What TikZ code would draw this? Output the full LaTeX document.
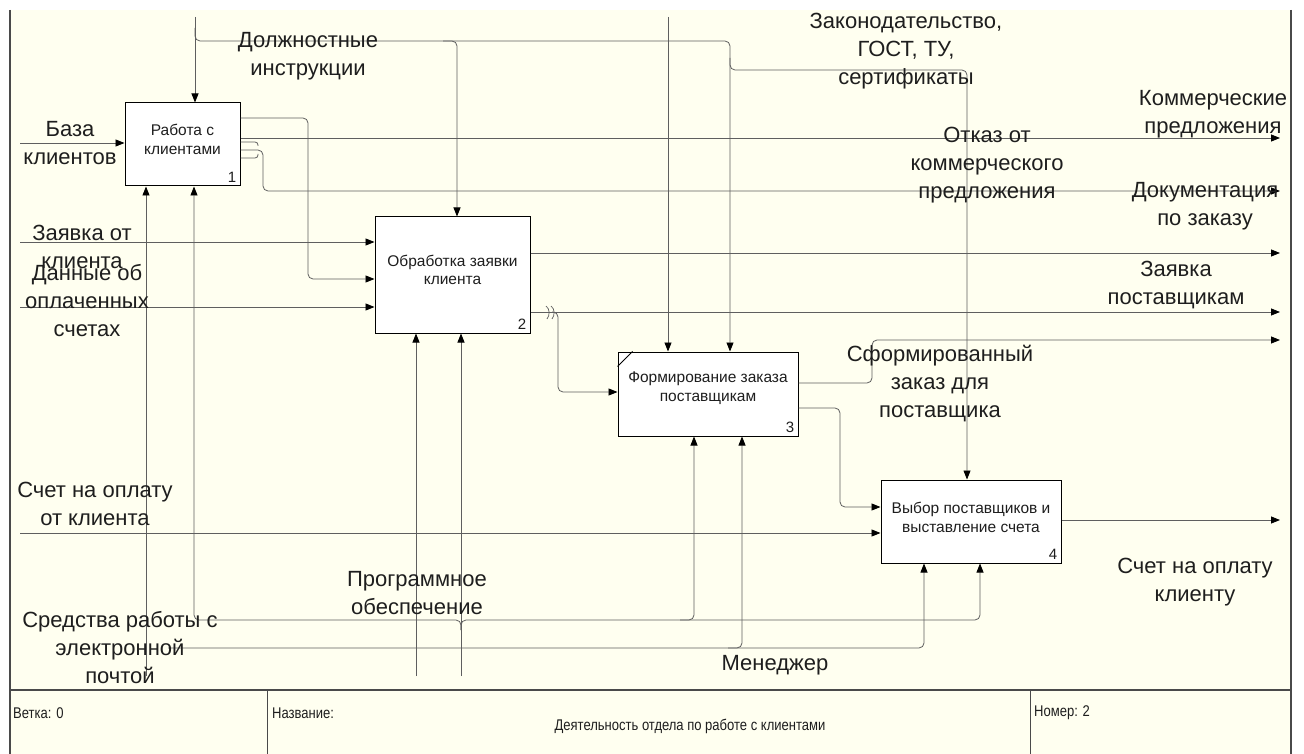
\documentclass[tikz,border=0pt]{standalone}
\usepackage{fontspec}
\setmainfont{Liberation Sans}
\newfontfamily\narrowfont[FakeStretch=0.84]{Liberation Sans}
\usetikzlibrary{arrows.meta}

\definecolor{cream}{HTML}{FFFFF0}
\definecolor{linegray}{HTML}{5F5F5F}
\definecolor{textgray}{HTML}{1E1E1E}
\definecolor{framegray}{HTML}{4A4A4A}

\begin{document}
\begin{tikzpicture}[x=1pt,y=-1pt,
  flow/.style={draw=linegray, line width=0.8pt, rounded corners=5pt},
  arr/.style={flow, -{Triangle[length=9pt,width=7pt,color=black]}},
  fnbox/.style={draw=black, line width=1pt, fill=white, inner sep=0pt},
  boxtext/.style={font=\fontsize{15.5}{18.5}\selectfont, align=center, text=textgray, inner sep=0pt},
  numlab/.style={font=\fontsize{15}{15}\selectfont, anchor=south east, inner sep=0pt, text=textgray},
  lab/.style={font=\fontsize{22}{28}\selectfont, align=center, text=textgray, inner sep=0pt},
  foot/.style={font=\narrowfont\fontsize{15.5}{17}\selectfont, text=textgray, inner sep=0pt}]

% page and sheet
\useasboundingbox (0,0) rectangle (1304,754);
\fill[white] (0,0) rectangle (1304,754);
\fill[cream] (10,10) rectangle (1291,754);

% function boxes
\node[fnbox, minimum width=115pt, minimum height=83pt]  (b1) at (182.5,144.5) {};
\node[fnbox, minimum width=155pt, minimum height=116pt] (b2) at (452.5,275) {};
\node[fnbox, minimum width=180pt, minimum height=84pt]  (b3) at (708,394) {};
\node[fnbox, minimum width=180pt, minimum height=83pt]  (b4) at (971,521.5) {};

\node[boxtext] (t1) at ([yshift=5pt]b1.center) {Работа с\\клиентами};
\node[boxtext] (t2) at ([yshift=5pt]b2.center) {Обработка заявки\\клиента};
\node[boxtext] (t3) at ([yshift=6pt]b3.center) {Формирование заказа\\поставщикам};
\node[boxtext] (t4) at ([yshift=4pt]b4.center) {Выбор поставщиков и\\выставление счета};

\node[numlab] (n1) at ([xshift=-4pt,yshift=4pt]b1.south east) {1};
\node[numlab] (n2) at ([xshift=-4pt,yshift=4pt]b2.south east) {2};
\node[numlab] (n3) at ([xshift=-4pt,yshift=4pt]b3.south east) {3};
\node[numlab] (n4) at ([xshift=-4pt,yshift=4pt]b4.south east) {4};

% corner mark of box 3
\draw[black, line width=0.8pt] ([yshift=-15pt]b3.north west) -- ([xshift=15pt]b3.north west);

% controls
\coordinate (ctopA) at (195,17);
\draw[arr] (ctopA) -- (ctopA |- b1.north);
\coordinate (cs) at (195,28);
\coordinate (cj) at (195,41);
\coordinate (cr) at (730,41);
\draw[arr] (cs) -- (cj) -- (cr) -- (cr |- b3.north);
\coordinate (dA) at (443,41);
\coordinate (dB) at (457,41);
\draw[arr] (dA) -- (dB) -- (dB |- b2.north);
\coordinate (ctopB) at (668,17);
\draw[arr] (ctopB) -- (ctopB |- b3.north);
\coordinate (lawA) at (730,58);
\coordinate (lawB) at (730,70);
\coordinate (lawC) at (967,70);
\draw[arr] (lawA) -- (lawB) -- (lawC) -- (lawC |- b4.north);

% inputs from the left
\coordinate (iBase) at (20,143);
\draw[arr] (iBase) -- (iBase -| b1.west);
\coordinate (iReq) at (20,242);
\draw[arr] (iReq) -- (iReq -| b2.west);
\coordinate (iPaid) at (20,307);
\draw[arr] (iPaid) -- (iPaid -| b2.west);
\coordinate (iBill) at (20,533);
\draw[arr] (iBill) -- (iBill -| b4.west);

% outputs of box 1
\coordinate (oa) at (308,118);
\coordinate (ob) at (308,279);
\draw[arr] (oa -| b1.east) -- (oa) -- (ob) -- (ob -| b2.west);
\coordinate (oCom) at (1280,138);
\draw[arr] (oCom -| b1.east) -- (oCom);
\coordinate (m1) at (258,142);
\coordinate (m2) at (258,158);
\coordinate (m0) at (263,150);
\coordinate (m3) at (263,191);
\coordinate (oRef) at (1280,191);
\draw[flow, rounded corners=3pt] (m1 -| b1.east) -- (m1) -- ++(0,4);
\draw[flow, rounded corners=3pt] (m2 -| b1.east) -- (m2) -- ++(0,-4);
\draw[arr] (m0 -| b1.east) -- (m0) -- (m3) -- (oRef);

% outputs of box 2
\coordinate (oDoc) at (1280,253);
\draw[arr] (oDoc -| b2.east) -- (oDoc);
\coordinate (oSup) at (1280,312);
\draw[arr] (oSup -| b2.east) -- (oSup);
\draw[linegray, line width=0.7pt] (546,306) .. controls (550,309) and (550,315) .. (547,319);
\draw[linegray, line width=0.7pt] (551,306) .. controls (555,309) and (555,315) .. (552,319);
\coordinate (ta) at (552,312);
\coordinate (tb) at (558,312);
\coordinate (tc) at (558,392);
\draw[arr] (ta) -- (tb) -- (tc) -- (tc -| b3.west);

% outputs of box 3
\coordinate (s1) at (872,383);
\coordinate (s2) at (872,340);
\coordinate (oOrd) at (1280,340);
\draw[arr] (s1 -| b3.east) -- (s1) -- (s2) -- (oOrd);
\coordinate (v1) at (840,408);
\coordinate (v2) at (840,507);
\draw[arr] (v1 -| b3.east) -- (v1) -- (v2) -- (v2 -| b4.west);

% output of box 4
\coordinate (oBill) at (1280,520);
\draw[arr] (oBill -| b4.east) -- (oBill);

% mechanisms
\coordinate (mA) at (146,676);
\draw[arr] (mA) -- (mA |- b1.south);
\coordinate (mB) at (416,676);
\draw[arr] (mB) -- (mB |- b2.south);
\coordinate (mC) at (461,676);
\draw[arr] (mC) -- (mC |- b2.south);
\coordinate (pf) at (461,630);
\coordinate (pj) at (461,620);
\coordinate (pl) at (194,620);
\coordinate (pr) at (980,620);
\draw[arr] (pf) -- (pj) -- (pl) -- (pl |- b1.south);
\draw[arr] (pf) -- (pj) -- (pr) -- (pr |- b4.south);
\coordinate (p3a) at (680,620);
\coordinate (p3) at (694,620);
\draw[arr] (p3a) -- (p3) -- (p3 |- b3.south);
\coordinate (eA) at (168,648);
\coordinate (eB) at (924,648);
\draw[arr] (eA) -- (eB) -- (eB |- b4.south);
\coordinate (e3a) at (728,648);
\coordinate (e3) at (742,648);
\draw[arr] (e3a) -- (e3) -- (e3 |- b3.south);

% arrow labels
\node[lab] (lDI)  at (308,56)   {Должностные\\инструкции};
\node[lab] (lBase) at (70,143)  {База\\клиентов};
\node[lab] (lReq) at (82,247)   {Заявка от\\клиента};
\node[lab] (lPaid) at (87,301)  {Данные об\\оплаченных\\счетах};
\node[lab] (lBill) at (95,504)  {Счет на оплату\\от клиента};
\node[lab] (lMail) at (120,648) {Средства работы с\\электронной\\почтой};
\node[lab] (lSoft) at (417,593) {Программное\\обеспечение};
\node[lab] (lMgr) at (775,665)  {Менеджер};
\node[lab] (lLaw) at (906,51)   {Законодательство,\\ГОСТ, ТУ,\\сертификаты};
\node[lab] (lRef) at (987,165)  {Отказ от\\коммерческого\\предложения};
\node[lab] (lCom) at (1213,114) {Коммерческие\\предложения};
\node[lab] (lDoc) at (1205,206) {Документация\\по заказу};
\node[lab] (lSup) at (1176,285) {Заявка\\поставщикам};
\node[lab] (lOrd) at (940,384)  {Сформированный\\заказ для\\поставщика};
\node[lab] (lOut) at (1195,582) {Счет на оплату\\клиенту};

% sheet frame and title block
\draw[framegray, line width=1.8pt] (10,10) -- (10,754);
\draw[framegray, line width=1.2pt] (1291,10) -- (1291,754);
\draw[framegray, line width=1.2pt] (10,690) -- (1291,690);
\draw[framegray, line width=1pt] (267,690) -- (267,754);
\draw[framegray, line width=1pt] (1030,690) -- (1030,754);

\node[foot, anchor=west] (fBr) at (13,713)   {Ветка: 0};
\node[foot, anchor=west] (fNm) at (272,713)  {Название:};
\node[foot, anchor=west] (fNo) at (1034,713) {Номер: 2};
\node[foot] (fTitle) at (690,726) {Деятельность отдела по работе с клиентами};
\end{tikzpicture}
\end{document}
